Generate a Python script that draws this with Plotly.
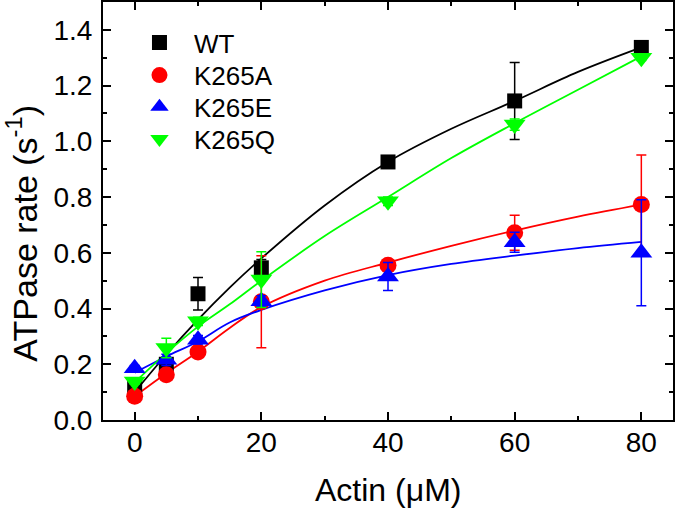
import plotly.graph_objects as go

# ---- data ----
actin = [0, 5, 10, 20, 40, 60, 80]

wt = [0.115, 0.20, 0.453, 0.546, 0.926, 1.145, 1.337]
wt_err = [0.01, 0.02, 0.058, 0.03, 0.02, 0.138, 0.015]

k265a = [0.085, 0.162, 0.244, 0.424, 0.555, 0.672, 0.773]
k265a_err = [0.01, 0.015, 0.012, 0.165, 0.015, 0.063, 0.178]

k265e = [0.186, 0.216, 0.288, 0.426, 0.515, 0.638, 0.60]
k265e_err = [0.01, 0.02, 0.015, 0.02, 0.05, 0.036, 0.19]

k265q = [0.138, 0.258, 0.354, 0.504, 0.785, 1.06, 1.30]
k265q_err = [0.01, 0.035, 0.015, 0.10, 0.015, 0.02, 0.01]

# fitted curves
fit_x = [0, 5, 10, 15, 20, 30, 40, 50, 60, 70, 80]
wt_fit = [0.10, 0.235, 0.36, 0.475, 0.58, 0.77, 0.926, 1.045, 1.145, 1.249, 1.337]
k265a_fit = [0.085, 0.168, 0.245, 0.33, 0.405, 0.50, 0.565, 0.625, 0.68, 0.73, 0.773]
k265e_fit = [0.17, 0.228, 0.282, 0.35, 0.395, 0.465, 0.52, 0.56, 0.59, 0.617, 0.639]
k265q_fit = [0.135, 0.24, 0.335, 0.415, 0.50, 0.66, 0.80, 0.94, 1.065, 1.185, 1.305]

x_ticks = [0, 20, 40, 60, 80]
y_ticks = [0.0, 0.2, 0.4, 0.6, 0.8, 1.0, 1.2, 1.4]
y_ticklabels = ["0.0", "0.2", "0.4", "0.6", "0.8", "1.0", "1.2", "1.4"]

series = [
    ("WT", wt, wt_err, wt_fit, "#000000", "square", 15),
    ("K265A", k265a, k265a_err, k265a_fit, "#ff0000", "circle", 17),
    ("K265E", k265e, k265e_err, k265e_fit, "#0000ff", "triangle-up", 19),
    ("K265Q", k265q, k265q_err, k265q_fit, "#00ff00", "triangle-down", 19),
]

FONT = "Arial, 'Liberation Sans', sans-serif"
NBSP = "\u00a0\u00a0"

fig = go.Figure()
for name, vals, errs, fit, color, symbol, size in series:
    fig.add_trace(go.Scatter(
        x=fit_x, y=fit, mode="lines", line=dict(color=color, width=1.8, shape="spline"),
        showlegend=False, hoverinfo="skip"))
legend_ids = ["legend", "legend2", "legend3", "legend4"]
for (name, vals, errs, fit, color, symbol, size), lid in zip(series, legend_ids):
    fig.add_trace(go.Scatter(
        x=actin, y=vals, mode="markers", name=NBSP + name, legend=lid,
        marker=dict(symbol=symbol, size=size, color=color, line=dict(width=0)),
        error_y=dict(type="data", array=errs, visible=True, color=color, thickness=1.5, width=5),
        cliponaxis=False))

axis_common = dict(
    showline=True, linecolor="black", linewidth=2, mirror="allticks",
    ticks="inside", ticklen=8, tickwidth=2, tickcolor="black",
    showgrid=False, zeroline=False, automargin=False,
    tickfont=dict(family=FONT, size=28, color="black"),
)

fig.update_xaxes(
    range=[-5, 85], tickvals=x_ticks, ticklabelstandoff=-4,
    minor=dict(ticks="inside", ticklen=4, tickwidth=2, tickcolor="black", dtick=10, tick0=0, showgrid=False),
    **axis_common)
fig.update_yaxes(
    range=[0, 1.5], tickvals=y_ticks, ticktext=y_ticklabels, ticklabelstandoff=3,
    minor=dict(ticks="inside", ticklen=4, tickwidth=2, tickcolor="black", dtick=0.1, tick0=0, showgrid=False),
    **axis_common)

fig.add_annotation(
    text="ATPase rate (s<sup>-1</sup>)", textangle=-90,
    xref="paper", yref="paper", x=-0.142, y=0.446, xanchor="center", yanchor="middle",
    showarrow=False, font=dict(family=FONT, size=34, color="black"))
fig.add_annotation(
    text="Actin (\u03bcM)",
    xref="paper", yref="paper", x=0.5, y=-0.1675, xanchor="center", yanchor="middle",
    showarrow=False, font=dict(family=FONT, size=32, color="black"))

row_y = [0.903, 0.825, 0.749, 0.672]
legend_layout = {}
for lid, yy in zip(legend_ids, row_y):
    legend_layout[lid] = dict(
        x=0.064, y=yy, xanchor="left", yanchor="middle",
        font=dict(family=FONT, size=26, color="black"),
        bgcolor="rgba(0,0,0,0)", itemwidth=30)

fig.update_layout(
    width=675, height=508,
    margin=dict(l=103, r=2, t=2, b=88),
    paper_bgcolor="white", plot_bgcolor="white",
    showlegend=True,
    **legend_layout,
)

fig.write_html("out.html", config={"displayModeBar": False},
               post_script="document.body.style.margin='0px';")
